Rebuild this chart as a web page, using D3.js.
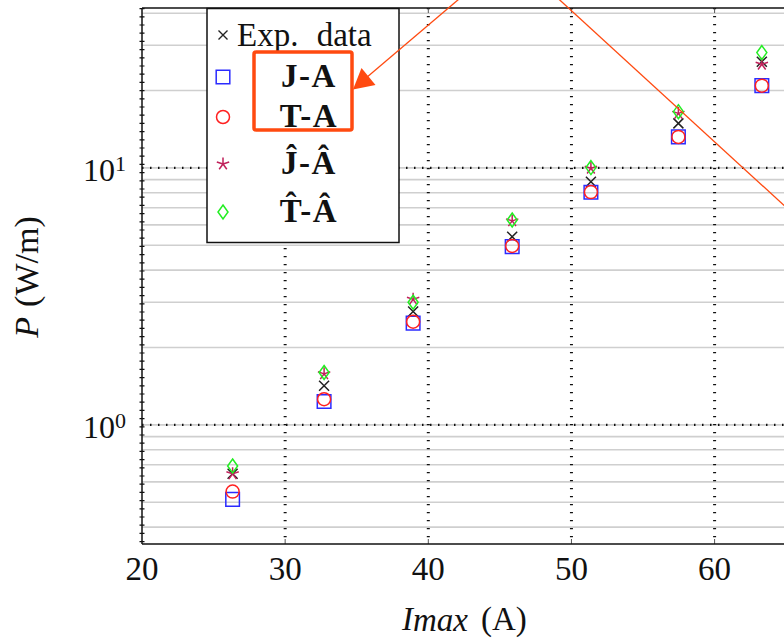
<!DOCTYPE html>
<html>
<head>
<meta charset="utf-8">
<style>
body { margin: 0; background: #fff; }
svg { display: block; background: #fff; }
text { font-family: "Liberation Serif", "Times New Roman", serif; fill: #111; }
</style>
</head>
<body>
<svg id="svg"></svg>
<script src="https://cdn.jsdelivr.net/npm/d3@7/dist/d3.min.js"></script>
<script>
// data
var current = [26.33, 32.72, 38.94, 45.86, 51.36, 57.47, 63.30]   // I_max (A)
var pExp   = [0.645, 1.42, 2.76, 5.40, 8.84, 14.9, 25.9]
var pJA    = [0.513, 1.233, 2.49, 4.94, 8.04, 13.2, 20.9]
var pTA    = [0.550, 1.259, 2.52, 4.97, 8.05, 13.2, 20.9]
var pJAhat = [0.645, 1.58, 3.08, 6.22, 9.97, 16.3, 25.3]
var pTAhat = [0.692, 1.60, 3.00, 6.27, 10.03, 16.55, 28.1]
var seriesNames = ["Exp. data", "J-A", "T-A", "\u0134-\u00C2", "T\u0302-\u00C2"]
var xTicks = [20, 30, 40, 50, 60]
var yMajor = [1, 10]
var yMinor = [0.4, 0.5, 0.6, 0.7, 0.8, 0.9, 1, 2, 3, 4, 5, 6, 7, 8, 9, 10, 20, 30, 40]

var width = 784, height = 640
var plotLeft = 142, plotTop = 8, plotBottom = 544

var svg = d3.select("#svg").attr("width", width).attr("height", height)

var xScale = d3.scaleLinear().domain([20, 70]).range([plotLeft, plotLeft + 50 * 14.315])
var yScale = d3.scaleLog().domain([0.344, 41.9]).range([plotBottom, plotTop])

svg.append("clipPath").attr("id", "plotclip")
  .append("rect").attr("x", plotLeft).attr("y", plotTop)
  .attr("width", width - plotLeft).attr("height", plotBottom - plotTop)

var plot = svg.append("g").attr("clip-path", "url(#plotclip)")

// minor grid (grey, solid)
plot.selectAll(".minor").data(yMinor).enter().append("line")
  .attr("x1", plotLeft).attr("x2", width)
  .attr("y1", d => yScale(d)).attr("y2", d => yScale(d))
  .attr("stroke", "#cfcfcf").attr("stroke-width", 1.6)

// major grid (dotted black)
plot.selectAll(".majorY").data(yMajor).enter().append("line")
  .attr("x1", plotLeft).attr("x2", width)
  .attr("y1", d => yScale(d)).attr("y2", d => yScale(d))
  .attr("stroke", "#111").attr("stroke-width", 2.2).attr("stroke-dasharray", "1.5 6.5")
plot.selectAll(".majorX").data(xTicks.slice(1)).enter().append("line")
  .attr("x1", d => xScale(d)).attr("x2", d => xScale(d))
  .attr("y1", plotTop).attr("y2", plotBottom)
  .attr("stroke", "#111").attr("stroke-width", 3).attr("stroke-dasharray", "1.3 6.7")

// small ticks on top / bottom
plot.selectAll(".tickB").data(xTicks.slice(1)).enter().append("line")
  .attr("x1", d => xScale(d)).attr("x2", d => xScale(d))
  .attr("y1", plotBottom).attr("y2", plotBottom - 5).attr("stroke", "#555").attr("stroke-width", 1)
plot.selectAll(".tickT").data(xTicks.slice(1)).enter().append("line")
  .attr("x1", d => xScale(d)).attr("x2", d => xScale(d))
  .attr("y1", plotTop).attr("y2", plotTop + 5).attr("stroke", "#555").attr("stroke-width", 1)

// markers
function markerPath(type) {
  var p = d3.path()
  if (type === "cross") {
    var r = 5
    p.moveTo(-r, -r); p.lineTo(r, r); p.moveTo(-r, r); p.lineTo(r, -r)
  } else if (type === "square") {
    p.rect(-6.8, -6.8, 13.6, 13.6)
  } else if (type === "circle") {
    p.moveTo(6.5, 0); p.arc(0, 0, 6.5, 0, 2 * Math.PI)
  } else if (type === "star") {
    for (var k = 0; k < 5; k++) {
      var a = -Math.PI / 2 + k * 2 * Math.PI / 5
      p.moveTo(0, 0); p.lineTo(6.5 * Math.cos(a), 6.5 * Math.sin(a))
    }
  } else if (type === "diamond") {
    p.moveTo(0, -7); p.lineTo(5, 0); p.lineTo(0, 7); p.lineTo(-5, 0); p.closePath()
  }
  return p.toString()
}

var series = [
  {name: seriesNames[0], values: pExp,   type: "cross",   color: "#222"},
  {name: seriesNames[1], values: pJA,    type: "square",  color: "#2b2bff"},
  {name: seriesNames[2], values: pTA,    type: "circle",  color: "#ff2020"},
  {name: seriesNames[3], values: pJAhat, type: "star",    color: "#c0205a"},
  {name: seriesNames[4], values: pTAhat, type: "diamond", color: "#22ee22"}
]

series.forEach(function(s) {
  plot.selectAll(null).data(s.values).enter().append("path")
    .attr("d", markerPath(s.type))
    .attr("transform", (d, i) => "translate(" + xScale(current[i]) + "," + yScale(d) + ")")
    .attr("fill", "none").attr("stroke", s.color).attr("stroke-width", 1.5)
})

// frame
svg.append("line").attr("x1", plotLeft).attr("x2", width).attr("y1", plotTop).attr("y2", plotTop)
  .attr("stroke", "#111").attr("stroke-width", 1.5)
svg.append("line").attr("x1", plotLeft).attr("x2", width).attr("y1", plotBottom).attr("y2", plotBottom)
  .attr("stroke", "#111").attr("stroke-width", 1.5)
svg.append("line").attr("x1", plotLeft).attr("x2", plotLeft).attr("y1", plotTop).attr("y2", plotBottom)
  .attr("stroke", "#111").attr("stroke-width", 1.5)
svg.append("line").attr("x1", plotLeft).attr("x2", plotLeft).attr("y1", plotTop).attr("y2", plotBottom)
  .attr("stroke", "#111").attr("stroke-width", 5).attr("stroke-dasharray", "1.2 7")

// x tick labels
svg.selectAll(".xlab").data(xTicks).enter().append("text")
  .attr("x", d => xScale(d)).attr("y", plotBottom + 36)
  .attr("text-anchor", "middle").attr("font-size", 33)
  .text(d => d)

// y tick labels 10^n
var ylab = svg.selectAll(".ylab").data(yMajor).enter().append("g")
ylab.append("text").attr("x", 115).attr("y", d => yScale(d) + 13.5)
  .attr("text-anchor", "end").attr("font-size", 32).text("10")
ylab.append("text").attr("x", 115).attr("y", d => yScale(d) + 3)
  .attr("font-size", 22).text(d => Math.round(Math.log10(d)))

// axis titles
var xt = svg.append("text").attr("x", 402).attr("y", 630).attr("font-size", 33)
xt.append("tspan").attr("font-style", "italic").text("I")
xt.append("tspan").attr("font-style", "italic").attr("dy", 1).text("max")
xt.append("tspan").attr("dx", 13).attr("dy", -1).text("(A)")

var yt = svg.append("text").attr("transform", "translate(38,277) rotate(-90)")
  .attr("text-anchor", "middle").attr("font-size", 34)
yt.append("tspan").attr("font-style", "italic").text("P")
yt.append("tspan").attr("dx", 10).text("(W/m)")

// legend
var legendRowsY = [35, 77, 117, 164, 212]
var lg = svg.append("g")
lg.append("rect").attr("x", 207).attr("y", 8.5).attr("width", 192).attr("height", 234)
  .attr("fill", "#fff").attr("stroke", "#111").attr("stroke-width", 1.5)
series.forEach(function(s, i) {
  var cy = legendRowsY[i]
  lg.append("path").attr("d", markerPath(s.type))
    .attr("transform", "translate(223," + cy + ")" + (i === 0 ? " scale(0.9)" : ""))
    .attr("fill", "none").attr("stroke", s.color).attr("stroke-width", 1.5)
  if (i === 0) {
    lg.append("text").attr("x", 237).attr("y", cy + 10.5).attr("font-size", 33)
      .attr("word-spacing", 10).text(s.name)
  } else {
    lg.append("text").attr("x", 309).attr("y", cy + 9.5).attr("font-size", 33)
      .attr("font-weight", "bold").attr("letter-spacing", 1.5)
      .attr("text-anchor", "middle").text(s.name)
  }
})

// annotation overlay (red-orange box and arrows)
var accent = "#ff4a10"
svg.append("rect").attr("x", 254).attr("y", 52).attr("width", 98).attr("height", 78).attr("rx", 2)
  .attr("fill", "none").attr("stroke", accent).attr("stroke-width", 3.5)
svg.append("line").attr("x1", 472).attr("y1", -12).attr("x2", 366).attr("y2", 78)
  .attr("stroke", accent).attr("stroke-width", 1.3)
svg.append("path").attr("d", "M353,89.5L361.5,68L375.5,85Z").attr("fill", accent)
svg.append("line").attr("x1", 551).attr("y1", -8).attr("x2", 800).attr("y2", 220)
  .attr("stroke", accent).attr("stroke-width", 1.3)
</script>
</body>
</html>
